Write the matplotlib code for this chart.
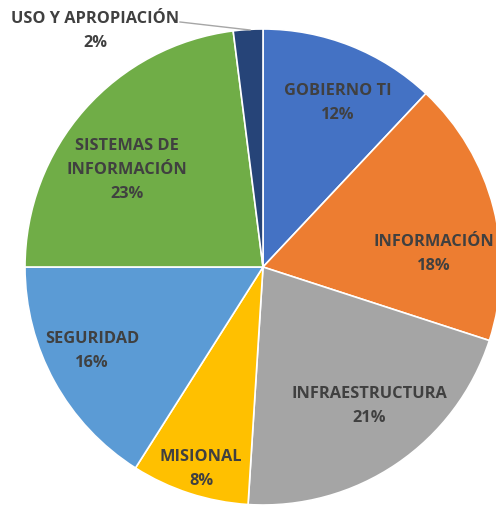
import matplotlib.pyplot as plt

# Data
categories = ["GOBIERNO TI", "INFORMACIÓN", "INFRAESTRUCTURA", "MISIONAL",
              "SEGURIDAD", "SISTEMAS DE\nINFORMACIÓN", "USO Y APROPIACIÓN"]
values = [12, 18, 21, 8, 16, 23, 2]
colors = ["#4472C4", "#ED7D31", "#A5A5A5", "#FFC000", "#5B9BD5", "#70AD47", "#264478"]

# label block centres in image pixels (x, y from top)
label_pos = [(338, 103), (434, 254), (369, 406), (201, 469),
             (92, 351), (127, 170), (95, 31)]

W, H = 496, 508
fig = plt.figure(figsize=(W / 100, H / 100), dpi=100)
ax = fig.add_axes([0, 0, 1, 1])

ax.pie(values, colors=colors, startangle=90, counterclock=False,
       center=(263, H - 267), radius=238,
       wedgeprops=dict(edgecolor="white", linewidth=1.2))
ax.set_xlim(0, W)
ax.set_ylim(0, H)
ax.set_aspect("equal")
ax.axis("off")

for cat, val, (x, y) in zip(categories, values, label_pos):
    ax.text(x, H - y, f"{cat}\n{val}%", ha="center", va="center",
            fontsize=11.8, fontweight="bold", color="#404040",
            family="Open Sans", linespacing=1.7)

# leader line for the tiny slice
ax.plot([180, 250], [H - 22, H - 30], color="#A6A6A6", lw=1)

fig.savefig("out.png", dpi=100)
